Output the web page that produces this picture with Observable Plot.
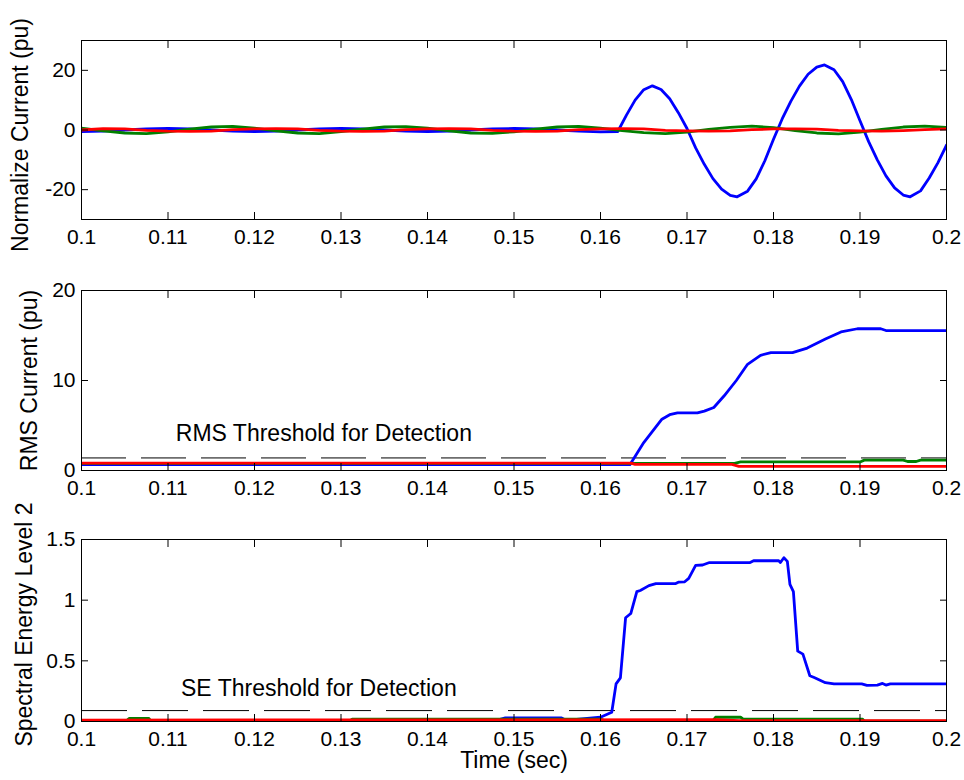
<!DOCTYPE html>
<html>
<head>
<meta charset="utf-8">
<script src="https://cdn.jsdelivr.net/npm/d3@7"></script>
<script src="https://cdn.jsdelivr.net/npm/@observablehq/plot@0.6"></script>
<style>
  html, body { margin: 0; padding: 0; background: #fff; }
  #chart svg { display: block; }
</style>
</head>
<body>
<div id="chart"></div>
<script>
// ---------- Tick labels ----------
const xTicks = [0.1, 0.11, 0.12, 0.13, 0.14, 0.15, 0.16, 0.17, 0.18, 0.19, 0.2];
const yTicksCurrent = [-20, 0, 20];
const yTicksRms = [0, 10, 20];
const yTicksSe = [0, 0.5, 1, 1.5];

// ---------- Panel 1: normalized current ----------
const timeCurrent = [0.1, 0.1025, 0.105, 0.1075, 0.11, 0.1125, 0.115, 0.1175, 0.12, 0.1225, 0.125, 0.1275, 0.13, 0.1325, 0.135, 0.1375, 0.14, 0.1425, 0.145, 0.1475, 0.15, 0.1525, 0.155, 0.1575, 0.16, 0.1625, 0.165, 0.1675, 0.17, 0.1725, 0.175, 0.1775, 0.18, 0.1825, 0.185, 0.1875, 0.19, 0.1925, 0.195, 0.1975, 0.2];
const greenCurrent = [0.6, -0.3, -1.0, -1.2, -0.6, 0.3, 1.0, 1.2, 0.6, -0.3, -1.0, -1.2, -0.5, 0.3, 1.0, 1.1, 0.6, -0.3, -1.0, -1.1, -0.6, 0.3, 1.0, 1.2, 0.6, -0.2, -0.9, -1.2, -0.7, 0.2, 0.9, 1.3, 0.8, -0.2, -1.0, -1.3, -0.7, 0.2, 1.0, 1.3, 0.9];
const redCurrent = [0.0, 0.45, 0.4, -0.1, -0.4, -0.45, -0.4, 0.1, 0.4, 0.45, 0.4, -0.1, -0.4, -0.45, -0.4, 0.1, 0.4, 0.45, 0.4, -0.1, -0.4, -0.45, -0.4, 0.1, 0.4, 0.45, 0.35, -0.1, -0.3, -0.35, -0.3, 0.1, 0.35, 0.4, 0.3, -0.1, -0.3, -0.35, -0.2, 0.1, 0.4];
const timeBlueCurrent = [0.1, 0.1025, 0.105, 0.1075, 0.11, 0.1125, 0.115, 0.1175, 0.12, 0.1225, 0.125, 0.1275, 0.13, 0.1325, 0.135, 0.1375, 0.14, 0.1425, 0.145, 0.1475, 0.15, 0.1525, 0.155, 0.1575, 0.16, 0.162, 0.163, 0.164, 0.165, 0.166, 0.167, 0.168, 0.169, 0.17, 0.171, 0.172, 0.173, 0.174, 0.175, 0.1758, 0.177, 0.178, 0.179, 0.18, 0.181, 0.182, 0.183, 0.184, 0.185, 0.1859, 0.187, 0.188, 0.189, 0.19, 0.191, 0.192, 0.193, 0.194, 0.195, 0.1958, 0.197, 0.198, 0.199, 0.2];
const blueCurrent = [-0.5, -0.4, 0.0, 0.4, 0.5, 0.4, 0.0, -0.4, -0.5, -0.4, 0.0, 0.4, 0.5, 0.4, 0.0, -0.4, -0.5, -0.4, 0.0, 0.4, 0.5, 0.4, 0.0, -0.4, -0.6, -0.5, 5.0, 10.0, 13.5, 14.8, 13.6, 10.5, 5.8, 0.5, -6.0, -11.5, -16.3, -19.8, -21.9, -22.4, -20.5, -16.4, -10.3, -3.1, 3.7, 9.6, 14.7, 18.7, 21.1, 21.8, 20.2, 16.2, 10.2, 3.1, -3.9, -10.0, -15.4, -19.4, -21.8, -22.4, -20.4, -16.1, -11.0, -5.1];

// ---------- Panel 2: RMS current ----------
const timeBlueRms = [0.1, 0.1634, 0.165, 0.1671, 0.168, 0.1689, 0.1712, 0.172, 0.1731, 0.1743, 0.1757, 0.177, 0.1785, 0.1797, 0.1822, 0.1839, 0.186, 0.1878, 0.1897, 0.1924, 0.193, 0.2];
const blueRms = [0.65, 0.65, 3.1, 5.7, 6.2, 6.4, 6.4, 6.6, 7.0, 8.3, 10.0, 11.8, 12.8, 13.1, 13.1, 13.6, 14.6, 15.4, 15.75, 15.75, 15.55, 15.55];
const timeGreenRms = [0.1, 0.1755, 0.1762, 0.19, 0.1905, 0.195, 0.1955, 0.1965, 0.197, 0.2];
const greenRms = [0.8, 0.8, 0.95, 0.95, 1.15, 1.15, 1.0, 1.0, 1.15, 1.15];
const timeRedRms = [0.1, 0.1635, 0.164, 0.1752, 0.176, 0.2];
const redRms = [0.82, 0.82, 0.68, 0.68, 0.45, 0.45];
const rmsThreshold = [1.4];

// ---------- Panel 3: spectral energy level 2 ----------
const timeBlueSe = [0.1, 0.148, 0.149, 0.1555, 0.156, 0.16, 0.1613, 0.1618, 0.1623, 0.1629, 0.1635, 0.1642, 0.1646, 0.1656, 0.1664, 0.1687, 0.169, 0.1697, 0.1702, 0.171, 0.1718, 0.1726, 0.1773, 0.1777, 0.1806, 0.1808, 0.1812, 0.1816, 0.1819, 0.1823, 0.1828, 0.1834, 0.1842, 0.1847, 0.186, 0.187, 0.1902, 0.1908, 0.192, 0.1926, 0.193, 0.1935, 0.2];
const blueSe = [0.01, 0.01, 0.03, 0.03, 0.01, 0.035, 0.076, 0.31, 0.36, 0.855, 0.89, 1.07, 1.08, 1.12, 1.137, 1.137, 1.148, 1.15, 1.18, 1.287, 1.29, 1.31, 1.31, 1.325, 1.325, 1.31, 1.35, 1.32, 1.13, 1.07, 0.58, 0.555, 0.377, 0.363, 0.32, 0.31, 0.31, 0.298, 0.30, 0.314, 0.30, 0.31, 0.31];
const timeGreenSe = [0.1, 0.1052, 0.1055, 0.1078, 0.108, 0.131, 0.1313, 0.16, 0.1605, 0.173, 0.1733, 0.1762, 0.1765, 0.1903, 0.1905, 0.2];
const greenSe = [0.005, 0.005, 0.025, 0.025, 0.005, 0.005, 0.02, 0.02, 0.008, 0.008, 0.035, 0.035, 0.02, 0.02, 0.003, 0.003];
const timeRedSe = [0.1, 0.1735, 0.176, 0.2];
const redSe = [0.012, 0.015, 0.006, 0.006];
const seThreshold = [0.09];

// ---------- Texts ----------
const yLabels = ["Normalize Current (pu)", "RMS Current (pu)", "Spectral Energy Level 2"];
const xLabel = "Time (sec)";
const rmsNote = [{t: 0.1109, v: 4.1, text: "RMS Threshold for Detection"}];
const seNote = [{t: 0.1115, v: 0.274, text: "SE Threshold for Detection"}];

const colors = {blue: "#0000ff", green: "#008000", red: "#ff0000"};

const zip = (ts, vs) => ts.map((t, i) => ({t, v: vs[i]}));
const fmt = d => String(Math.round(d * 100) / 100);
const blank = () => "";
const FONT = "'Liberation Sans', Arial, Helvetica, sans-serif";
const TICK_FS = 21;
const LABEL_FS = 23;

function panel({height, marginTop, marginBottom, yDomain, yTicks, series, extra = [], ylabel, labelDx, labelDy}) {
  return Plot.plot({
    width: 964,
    height,
    marginLeft: 81,
    marginRight: 18,
    marginTop,
    marginBottom,
    style: {fontFamily: FONT, fontSize: TICK_FS + "px", color: "#000", background: "transparent", overflow: "visible"},
    x: {domain: [0.1, 0.2]},
    y: {domain: yDomain},
    marks: [
      ...extra,
      ...series.map(s => Plot.line(zip(s.t, s.v), {x: "t", y: "v", stroke: s.color, strokeWidth: 2.8, strokeLinejoin: "round", clip: true})),
      Plot.frame({stroke: "#000", strokeWidth: 1}),
      Plot.axisX({ticks: xTicks, tickSize: 0, tickPadding: 10, tickFormat: fmt, label: null, fontSize: TICK_FS}),
      Plot.axisX({ticks: xTicks, anchor: "bottom", tickSize: -7, tickFormat: blank, label: null, stroke: "#000"}),
      Plot.axisX({ticks: xTicks, anchor: "top", tickSize: -7, tickFormat: blank, label: null, stroke: "#000"}),
      Plot.axisY({ticks: yTicks, tickSize: 0, tickPadding: 6, tickFormat: fmt, label: null, fontSize: TICK_FS}),
      Plot.axisY({ticks: yTicks, anchor: "left", tickSize: -7, tickFormat: blank, label: null, stroke: "#000"}),
      Plot.axisY({ticks: yTicks, anchor: "right", tickSize: -7, tickFormat: blank, label: null, stroke: "#000"}),
      Plot.text([ylabel], {frameAnchor: "left", textAnchor: "middle", dx: labelDx, dy: labelDy, rotate: -90, fontSize: LABEL_FS, fill: "#000"})
    ]
  });
}

const chart = document.getElementById("chart");

chart.append(panel({
  height: 250, marginTop: 40, marginBottom: 31,
  yDomain: [-30, 30], yTicks: yTicksCurrent,
  series: [
    {t: timeBlueCurrent, v: blueCurrent, color: colors.blue},
    {t: timeCurrent, v: greenCurrent, color: colors.green},
    {t: timeCurrent, v: redCurrent, color: colors.red}
  ],
  ylabel: yLabels[0], labelDx: -61, labelDy: 5
}));

chart.append(panel({
  height: 250, marginTop: 40, marginBottom: 30,
  yDomain: [0, 20], yTicks: yTicksRms,
  series: [
    {t: timeBlueRms, v: blueRms, color: colors.blue},
    {t: timeGreenRms, v: greenRms, color: colors.green},
    {t: timeRedRms, v: redRms, color: colors.red}
  ],
  extra: [
    Plot.ruleY(rmsThreshold, {stroke: "#6e6e6e", strokeWidth: 1.6, strokeDasharray: "45,15"}),
    Plot.text(rmsNote, {x: "t", y: "v", text: "text", textAnchor: "start", fontSize: LABEL_FS, fill: "#000"})
  ],
  ylabel: yLabels[1], labelDx: -52, labelDy: 0
}));

chart.append(panel({
  height: 280, marginTop: 39, marginBottom: 59,
  yDomain: [0, 1.5], yTicks: yTicksSe,
  series: [
    {t: timeBlueSe, v: blueSe, color: colors.blue},
    {t: timeGreenSe, v: greenSe, color: colors.green},
    {t: timeRedSe, v: redSe, color: colors.red}
  ],
  extra: [
    Plot.ruleY(seThreshold, {stroke: "#000", strokeWidth: 1, strokeDasharray: "46,15"}),
    Plot.text(seNote, {x: "t", y: "v", text: "text", textAnchor: "start", fontSize: LABEL_FS, fill: "#000"}),
    Plot.text([xLabel], {frameAnchor: "bottom", dy: 46, fontSize: LABEL_FS, fill: "#000"})
  ],
  ylabel: yLabels[2], labelDx: -57, labelDy: -6
}));
</script>
</body>
</html>
